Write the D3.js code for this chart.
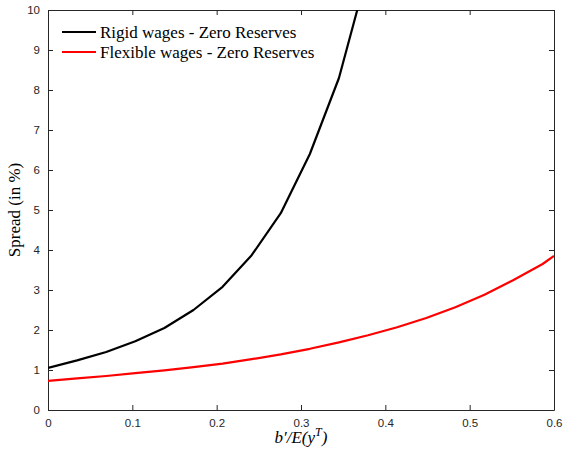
<!DOCTYPE html>
<html>
<head>
<meta charset="utf-8">
<script src="https://cdn.jsdelivr.net/npm/d3@7"></script>
<style>
  body { margin: 0; background: #fff; }
  .tick text { font-family: "Liberation Sans", Arial, sans-serif; font-size: 11.5px; fill: #262626; }
</style>
</head>
<body>
<div id="chart"></div>
<script>
// Data.
const debtRatio = [0, 0.0345, 0.069, 0.1035, 0.138, 0.1725, 0.207, 0.2415, 0.276, 0.3105, 0.345, 0.3795,
                   0.414, 0.4485, 0.483, 0.5175, 0.552, 0.5865, 0.6];
const rigidSpread = [1.05, 1.24, 1.45, 1.72, 2.05, 2.5, 3.08, 3.87, 4.92, 6.4, 8.3, 11.0];
const flexSpread = [0.73, 0.79, 0.85, 0.92, 0.99, 1.07, 1.16, 1.27, 1.39, 1.53, 1.69, 1.87,
                    2.07, 2.3, 2.57, 2.88, 3.25, 3.65, 3.85];
const xTicks = [0, 0.1, 0.2, 0.3, 0.4, 0.5, 0.6];
const yTicks = [0, 1, 2, 3, 4, 5, 6, 7, 8, 9, 10];
const seriesNames = ["Rigid wages - Zero Reserves", "Flexible wages - Zero Reserves"];
const seriesColors = ["#000000", "#ff0000"];

// Size of the page and the plot box.
let width = 564;
let height = 449;
let margin = {top: 10, right: 10, bottom: 39, left: 48};
let innerW = width - margin.left - margin.right;
let innerH = height - margin.top - margin.bottom;

let svg = d3.select("#chart")
  .append("svg")
    .attr("width", width)
    .attr("height", height);

let g = svg.append("g")
    .attr("transform", "translate(" + margin.left + "," + margin.top + ")");

let x = d3.scaleLinear().domain([0, 0.6]).range([0, innerW]);
let y = d3.scaleLinear().domain([0, 10]).range([innerH, 0]);

// Clip the curves to the axes box.
svg.append("defs").append("clipPath")
    .attr("id", "plot-clip")
  .append("rect")
    .attr("width", innerW)
    .attr("height", innerH);

let axisColor = "#262626";
let serif = "'Liberation Serif', 'Times New Roman', serif";

// Axes with inward ticks, plus the top and right edges of the box.
let xAxis = g.append("g")
    .attr("transform", "translate(0," + innerH + ")")
    .call(d3.axisBottom(x).tickValues(xTicks).tickSizeInner(-5).tickSizeOuter(0).tickPadding(9)
      .tickFormat(d => d === 0 ? "0" : d3.format(".1f")(d)));
let yAxis = g.append("g")
    .call(d3.axisLeft(y).tickValues(yTicks).tickSizeInner(-5).tickSizeOuter(0).tickPadding(8));
let xTop = g.append("g")
    .call(d3.axisTop(x).tickValues(xTicks).tickSizeInner(-5).tickSizeOuter(0).tickFormat(""));
let yRight = g.append("g")
    .attr("transform", "translate(" + innerW + ",0)")
    .call(d3.axisRight(y).tickValues(yTicks).tickSizeInner(-5).tickSizeOuter(0).tickFormat(""));

[xAxis, yAxis, xTop, yRight].forEach(a => {
  a.selectAll("path, line").attr("stroke", axisColor).attr("stroke-width", 1);
});

// Lines.
let line = d3.line()
    .x(d => x(d[0]))
    .y(d => y(d[1]));

let series = [
  rigidSpread.map((v, i) => [debtRatio[i], v]),
  flexSpread.map((v, i) => [debtRatio[i], v])
];

g.append("g")
    .attr("clip-path", "url(#plot-clip)")
  .selectAll("path")
    .data(series)
    .enter()
    .append("path")
      .attr("d", line)
      .attr("fill", "none")
      .attr("stroke", (d, i) => seriesColors[i])
      .attr("stroke-width", 2.2)
      .attr("stroke-linejoin", "round");

// Legend.
let legend = g.append("g").attr("transform", "translate(14,22)");
seriesNames.forEach((name, i) => {
  legend.append("line")
      .attr("x1", 0).attr("x2", 34)
      .attr("y1", i * 20).attr("y2", i * 20)
      .attr("stroke", seriesColors[i])
      .attr("stroke-width", 2.2);
  legend.append("text")
      .attr("x", 38)
      .attr("y", i * 20)
      .attr("dy", "0.35em")
      .attr("font-family", serif)
      .attr("font-size", "17px")
      .attr("fill", "#000")
      .text(name);
});

// Axis labels.
svg.append("text")
    .attr("x", margin.left + innerW / 2)
    .attr("y", 443)
    .attr("text-anchor", "middle")
    .attr("font-family", serif)
    .attr("font-size", "17px")
    .attr("font-style", "italic")
    .html("b\u2032/E(y<tspan font-size='12px' dy='-7'>T</tspan><tspan dy='7'>)</tspan>");

svg.append("text")
    .attr("transform", "translate(20," + (margin.top + innerH / 2) + ") rotate(-90)")
    .attr("text-anchor", "middle")
    .attr("font-family", serif)
    .attr("font-size", "17px")
    .text("Spread (in %)");
</script>
</body>
</html>
